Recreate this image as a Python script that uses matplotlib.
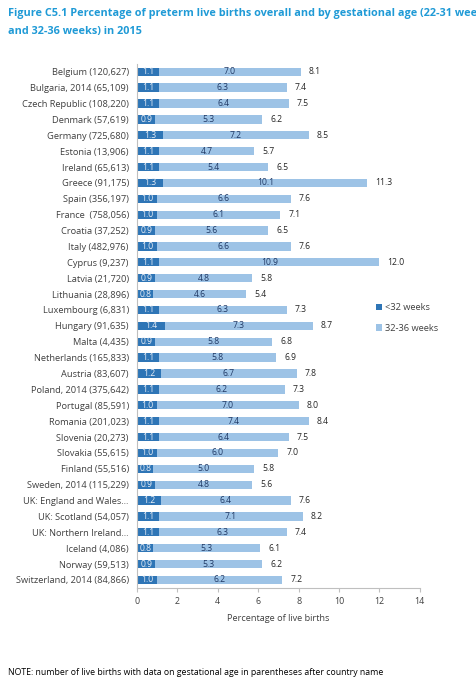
import numpy as np
import matplotlib.pyplot as plt

# data
countries = [
    "Belgium (120,627)", "Bulgaria, 2014 (65,109)", "Czech Republic (108,220)",
    "Denmark (57,619)", "Germany (725,680)", "Estonia (13,906)", "Ireland (65,613)",
    "Greece (91,175)", "Spain (356,197)", "France  (758,056)", "Croatia (37,252)",
    "Italy (482,976)", "Cyprus (9,237)", "Latvia (21,720)", "Lithuania (28,896)",
    "Luxembourg (6,831)", "Hungary (91,635)", "Malta (4,435)", "Netherlands (165,833)",
    "Austria (83,607)", "Poland, 2014 (375,642)", "Portugal (85,591)",
    "Romania (201,023)", "Slovenia (20,273)", "Slovakia (55,615)", "Finland (55,516)",
    "Sweden, 2014 (115,229)", "UK: England and Wales...", "UK: Scotland (54,057)",
    "UK: Northern Ireland...", "Iceland (4,086)", "Norway (59,513)",
    "Switzerland, 2014 (84,866)",
]
very_preterm = [1.1, 1.1, 1.1, 0.9, 1.3, 1.1, 1.1, 1.3, 1.0, 1.0, 0.9, 1.0, 1.1,
                0.9, 0.8, 1.1, 1.4, 0.9, 1.1, 1.2, 1.1, 1.0, 1.1, 1.1, 1.0, 0.8,
                0.9, 1.2, 1.1, 1.1, 0.8, 0.9, 1.0]
moderate = [7.0, 6.3, 6.4, 5.3, 7.2, 4.7, 5.4, 10.1, 6.6, 6.1, 5.6, 6.6, 10.9,
            4.8, 4.6, 6.3, 7.3, 5.8, 5.8, 6.7, 6.2, 7.0, 7.4, 6.4, 6.0, 5.0,
            4.8, 6.4, 7.1, 6.3, 5.3, 5.3, 6.2]
total = [8.1, 7.4, 7.5, 6.2, 8.5, 5.7, 6.5, 11.3, 7.6, 7.1, 6.5, 7.6, 12.0,
         5.8, 5.4, 7.3, 8.7, 6.8, 6.9, 7.8, 7.3, 8.0, 8.4, 7.5, 7.0, 5.8,
         5.6, 7.6, 8.2, 7.4, 6.1, 6.2, 7.2]

dark = '#2e75b6'
light = '#9dc3e6'
font = 'Open Sans'

fig = plt.figure(figsize=(4.76, 6.86), dpi=100)
ax = fig.add_axes([0.288, 0.143, 0.594, 0.764])

y = np.arange(len(countries))
vp = np.array(very_preterm)
mp = np.array(moderate)
ax.barh(y, vp, height=0.52, color=dark, label='<32 weeks')
ax.barh(y, mp, left=vp, height=0.52, color=light, label='32-36 weeks')

for i in range(len(countries)):
    ax.text(vp[i] / 2, y[i], f"{vp[i]:.1f}", ha='center', va='center',
            fontsize=6.2, color='#e8eef6', family=font)
    ax.text(vp[i] + mp[i] / 2, y[i], f"{mp[i]:.1f}", ha='center', va='center',
            fontsize=6.2, color='#1f3864', family=font)
    ax.text(vp[i] + mp[i] + 0.4, y[i], f"{total[i]:.1f}", ha='left', va='center',
            fontsize=6.2, color='#262626', family=font)

ax.set_ylim(len(countries) - 0.5, -0.5)
ax.set_xlim(0, 14)
ax.set_xticks(range(0, 15, 2))
ax.set_yticks(y)
ax.set_yticklabels(countries, fontsize=6.7, color='#404040', family=font)
ax.tick_params(axis='y', length=0, pad=6)
ax.tick_params(axis='x', labelsize=6.4, labelcolor='#404040', length=3, color='#bfbfbf')
for lbl in ax.get_xticklabels():
    lbl.set_family(font)
ax.set_xlabel("Percentage of live births", fontsize=6.6, color='#404040',
              family=font, labelpad=6)
for s in ['top', 'right']:
    ax.spines[s].set_visible(False)
ax.spines['left'].set_color('#bfbfbf')
ax.spines['bottom'].set_color('#bfbfbf')

leg = ax.legend(loc='center left', bbox_to_anchor=(0.815, 0.515), frameon=False,
                prop={'family': font, 'size': 6.7}, handlelength=0.7,
                handleheight=0.7, labelspacing=1.2, handletextpad=0.3)
for t in leg.get_texts():
    t.set_color('#404040')

fig.text(0.017, 0.988, "Figure C5.1 Percentage of preterm live births overall and by gestational age (22-31 weeks",
         fontsize=7.8, fontweight='bold', color='#1f9ad6', family=font, va='top')
fig.text(0.017, 0.962, "and 32-36 weeks) in 2015",
         fontsize=7.8, fontweight='bold', color='#1f9ad6', family=font, va='top')
fig.text(0.017, 0.013, "NOTE: number of live births with data on gestational age in parentheses after country name",
         fontsize=6.3, color='black', family=font, va='bottom')

fig.savefig('out.png', dpi=100)
